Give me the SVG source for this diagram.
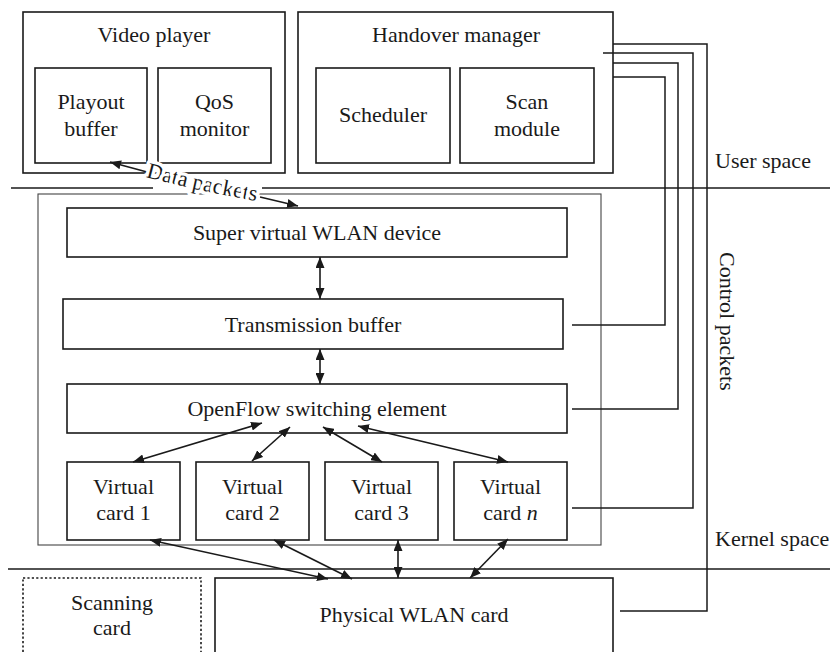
<svg xmlns="http://www.w3.org/2000/svg" width="830" height="652" viewBox="0 0 830 652">
  <style>
    text { font-family: "Liberation Serif", "Times New Roman", serif; font-size: 22px; fill: #1a1a1a; }
    .c { text-anchor: middle; }
    .box { fill: none; stroke: #1a1a1a; stroke-width: 1.6; }
    .thin { fill: none; stroke: #444; stroke-width: 1.1; }
    .dots { fill: none; stroke: #1a1a1a; stroke-width: 1.6; stroke-dasharray: 2.2 2.2; }
    .ln { fill: none; stroke: #1a1a1a; stroke-width: 1.5; }
    .arr2 { fill: none; stroke: #1a1a1a; stroke-width: 1.6; marker-start: url(#head); marker-end: url(#head); }
    .arr1 { fill: none; stroke: #1a1a1a; stroke-width: 1.6; marker-end: url(#head); }
    .halo { stroke: #fff; stroke-width: 7; paint-order: stroke; stroke-linejoin: round; }
  </style>
  <defs>
    <marker id="head" viewBox="0 0 11 9" refX="11" refY="4.5" markerWidth="11" markerHeight="9" markerUnits="userSpaceOnUse" orient="auto-start-reverse">
      <path d="M0,0 L11,4.5 L0,9 z" fill="#1a1a1a"/>
    </marker>
    <path id="dpPath" d="M146,177 Q198,191 262,202"/>
  </defs>

  <rect width="830" height="652" fill="#fff"/>

  <!-- space separators and labels -->
  <g id="space-labels">
    <line class="ln" x1="11" y1="188" x2="153" y2="188"/>
    <line class="ln" x1="262" y1="188" x2="830" y2="188"/>
    <line class="ln" x1="8" y1="569" x2="830" y2="569"/>
    <text x="715" y="168">User space</text>
    <text x="715" y="546">Kernel space</text>
    <text x="720" y="252" transform="rotate(90 720 252)">Control packets</text>
  </g>

  <!-- user space nodes -->
  <g id="video-player">
    <rect class="box" x="23" y="12" width="262" height="161"/>
    <text class="c" x="154" y="42">Video player</text>
  </g>
  <g id="playout-buffer">
    <rect class="box" x="35" y="68" width="112" height="95"/>
    <text class="c" x="91" y="109">Playout</text>
    <text class="c" x="91" y="136">buffer</text>
  </g>
  <g id="qos-monitor">
    <rect class="box" x="158" y="68" width="113" height="95"/>
    <text class="c" x="214.5" y="109">QoS</text>
    <text class="c" x="214.5" y="136">monitor</text>
  </g>
  <g id="handover-manager">
    <rect class="box" x="298" y="12" width="315" height="161"/>
    <text class="c" x="456" y="42">Handover manager</text>
  </g>
  <g id="scheduler">
    <rect class="box" x="316" y="68" width="134" height="95"/>
    <text class="c" x="383" y="122">Scheduler</text>
  </g>
  <g id="scan-module">
    <rect class="box" x="460" y="68" width="134" height="95"/>
    <text class="c" x="527" y="109">Scan</text>
    <text class="c" x="527" y="136">module</text>
  </g>

  <!-- kernel space nodes -->
  <g id="kernel-container">
    <rect class="thin" x="38" y="194" width="563" height="351"/>
  </g>
  <g id="super-virtual-device">
    <rect class="box" x="67" y="208" width="500" height="49"/>
    <text class="c" x="317" y="240">Super virtual WLAN device</text>
  </g>
  <g id="transmission-buffer">
    <rect class="box" x="63" y="299" width="500" height="50"/>
    <text class="c" x="313" y="332">Transmission buffer</text>
  </g>
  <g id="openflow-element">
    <rect class="box" x="67" y="384" width="500" height="49"/>
    <text class="c" x="317" y="416">OpenFlow switching element</text>
  </g>
  <g id="virtual-card-1">
    <rect class="box" x="67" y="462" width="113" height="78"/>
    <text class="c" x="123.5" y="494">Virtual</text>
    <text class="c" x="123.5" y="520">card 1</text>
  </g>
  <g id="virtual-card-2">
    <rect class="box" x="196" y="462" width="113" height="78"/>
    <text class="c" x="252.5" y="494">Virtual</text>
    <text class="c" x="252.5" y="520">card 2</text>
  </g>
  <g id="virtual-card-3">
    <rect class="box" x="325" y="462" width="113" height="78"/>
    <text class="c" x="381.5" y="494">Virtual</text>
    <text class="c" x="381.5" y="520">card 3</text>
  </g>
  <g id="virtual-card-n">
    <rect class="box" x="454" y="462" width="113" height="78"/>
    <text class="c" x="510.5" y="494">Virtual</text>
    <text class="c" x="510.5" y="520">card <tspan font-style="italic">n</tspan></text>
  </g>

  <!-- hardware -->
  <g id="scanning-card">
    <rect class="dots" x="23" y="578" width="178" height="90"/>
    <text class="c" x="112" y="610">Scanning</text>
    <text class="c" x="112" y="635">card</text>
  </g>
  <g id="physical-wlan-card">
    <rect class="box" x="215" y="578" width="398" height="90"/>
    <text class="c" x="414" y="622">Physical WLAN card</text>
  </g>

  <!-- connectors -->
  <g id="connectors">
    <!-- control packet lines from the handover manager -->
    <polyline class="ln" points="613,44 707,44 707,611 620,611"/>
    <polyline class="ln" points="603,53 693,53 693,508 572,508"/>
    <polyline class="ln" points="613,63 678,63 678,409 572,409"/>
    <polyline class="ln" points="613,77 665,77 665,325 572,325"/>

    <!-- data path -->
    <line class="arr2" x1="320" y1="257" x2="320" y2="299"/>
    <line class="arr2" x1="320" y1="349" x2="320" y2="384"/>
    <line class="arr2" x1="262" y1="423" x2="133" y2="462"/>
    <line class="arr2" x1="290" y1="427" x2="252" y2="461"/>
    <line class="arr2" x1="323" y1="427" x2="382" y2="462"/>
    <line class="arr2" x1="358" y1="426" x2="508" y2="462"/>
    <line class="arr2" x1="150" y1="540" x2="328" y2="579"/>
    <line class="arr2" x1="274" y1="540" x2="352" y2="579"/>
    <line class="arr2" x1="398" y1="540" x2="398" y2="578"/>
    <line class="arr2" x1="508" y1="539" x2="470" y2="578"/>

    <!-- data packets between kernel and player -->
    <line class="arr1" x1="147" y1="172" x2="110" y2="162"/>
    <line class="arr1" x1="260" y1="197" x2="298" y2="206"/>
    <text class="halo"><textPath href="#dpPath">Data packets</textPath></text>
  </g>
</svg>
